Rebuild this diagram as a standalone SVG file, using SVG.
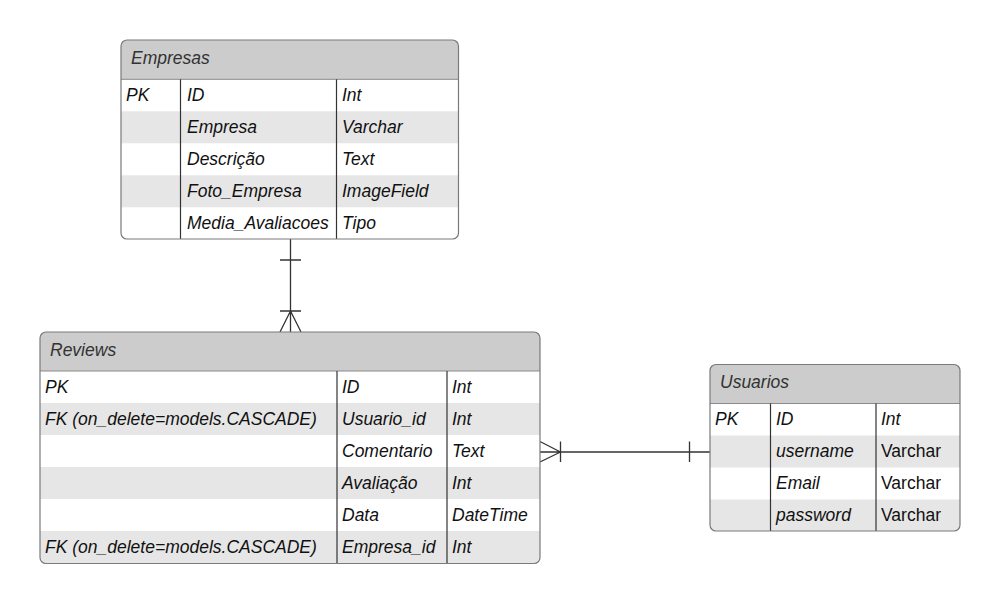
<svg xmlns="http://www.w3.org/2000/svg" width="1000" height="604" viewBox="0 0 1000 604">
<style>
  .bg{fill:#ffffff}
  .hdr{fill:#cccccc}
  .alt{fill:#e6e6e6}
  .border{fill:none;stroke:#7a7a7a;stroke-width:1.2}
  .sep{stroke:#8a8a8a;stroke-width:1}
  .col{stroke:#333333;stroke-width:1.2}
  .t{font-family:"Liberation Sans",Arial,sans-serif;font-size:17.5px;font-style:italic;fill:#111111}
  .tn{font-family:"Liberation Sans",Arial,sans-serif;font-size:17.5px;fill:#111111}
  .h{font-family:"Liberation Sans",Arial,sans-serif;font-size:17.5px;font-style:italic;fill:#333333}
  .c{fill:none;stroke:#333333;stroke-width:1.3}
</style>
<defs>
  <clipPath id="cE"><rect x="121" y="40" width="337.5" height="199" rx="6"/></clipPath>
  <clipPath id="cR"><rect x="40" y="332" width="500" height="231.5" rx="6"/></clipPath>
  <clipPath id="cU"><rect x="710" y="364.5" width="250" height="166.5" rx="6"/></clipPath>
</defs>
<rect class="bg" x="0" y="0" width="1000" height="604"/>

<g id="connectors">
  <path class="c" d="M290.5 239 V332 M280 260 H301 M280 311 H301 M290.5 311 L280 332 M290.5 311 L301 332"/>
  <path class="c" d="M540 452 H710 M560.5 441.5 V462 M689.5 441.5 V462 M540 441.5 L560.5 452 M540 462 L560.5 452"/>
</g>

<g id="empresas">
  <g clip-path="url(#cE)">
    <rect class="bg" x="121" y="40" width="338" height="200"/>
    <rect class="hdr" x="121" y="40" width="338" height="39.3"/>
    <rect class="alt" x="121" y="111.3" width="338" height="32"/>
    <rect class="alt" x="121" y="175.3" width="338" height="32"/>
  </g>
  <line class="sep" x1="121" y1="79.3" x2="458.5" y2="79.3"/>
  <line class="col" x1="180.5" y1="79.3" x2="180.5" y2="239"/>
  <line class="col" x1="336.5" y1="79.3" x2="336.5" y2="239"/>
  <rect class="border" x="121" y="40" width="337.5" height="199" rx="6"/>
  <text class="h" x="131" y="64">Empresas</text>
  <text class="t" x="126" y="100.5">PK</text>
  <text class="t" x="187" y="100.5">ID</text>
  <text class="t" x="342" y="100.5">Int</text>
  <text class="t" x="187" y="132.5">Empresa</text>
  <text class="t" x="342" y="132.5">Varchar</text>
  <text class="t" x="187" y="164.5">Descrição</text>
  <text class="t" x="342" y="164.5">Text</text>
  <text class="t" x="187" y="196.5">Foto_Empresa</text>
  <text class="t" x="342" y="196.5">ImageField</text>
  <text class="t" x="187" y="228.5">Media_Avaliacoes</text>
  <text class="t" x="342" y="228.5">Tipo</text>
</g>

<g id="reviews">
  <g clip-path="url(#cR)">
    <rect class="bg" x="40" y="332" width="500" height="232"/>
    <rect class="hdr" x="40" y="332" width="500" height="39"/>
    <rect class="alt" x="40" y="403" width="500" height="32"/>
    <rect class="alt" x="40" y="467" width="500" height="32"/>
    <rect class="alt" x="40" y="531" width="500" height="33"/>
  </g>
  <line class="sep" x1="40" y1="371" x2="540" y2="371"/>
  <line class="col" x1="337" y1="371" x2="337" y2="563.5"/>
  <line class="col" x1="447" y1="371" x2="447" y2="563.5"/>
  <rect class="border" x="40" y="332" width="500" height="231.5" rx="6"/>
  <text class="h" x="50" y="356">Reviews</text>
  <text class="t" x="45" y="392.5">PK</text>
  <text class="t" x="342" y="392.5">ID</text>
  <text class="t" x="452" y="392.5">Int</text>
  <text class="t" x="45" y="424.5">FK (on_delete=models.CASCADE)</text>
  <text class="t" x="342" y="424.5">Usuario_id</text>
  <text class="t" x="452" y="424.5">Int</text>
  <text class="t" x="342" y="456.5">Comentario</text>
  <text class="t" x="452" y="456.5">Text</text>
  <text class="t" x="342" y="488.5">Avaliação</text>
  <text class="t" x="452" y="488.5">Int</text>
  <text class="t" x="342" y="520.5">Data</text>
  <text class="t" x="452" y="520.5">DateTime</text>
  <text class="t" x="45" y="552.5">FK (on_delete=models.CASCADE)</text>
  <text class="t" x="342" y="552.5">Empresa_id</text>
  <text class="t" x="452" y="552.5">Int</text>
</g>

<g id="usuarios">
  <g clip-path="url(#cU)">
    <rect class="bg" x="710" y="364.5" width="250" height="167"/>
    <rect class="hdr" x="710" y="364.5" width="250" height="39"/>
    <rect class="alt" x="710" y="435.5" width="250" height="32"/>
    <rect class="alt" x="710" y="499.5" width="250" height="32"/>
  </g>
  <line class="sep" x1="710" y1="403.5" x2="960" y2="403.5"/>
  <line class="col" x1="770.5" y1="403.5" x2="770.5" y2="531"/>
  <line class="col" x1="876" y1="403.5" x2="876" y2="531"/>
  <rect class="border" x="710" y="364.5" width="250" height="166.5" rx="6"/>
  <text class="h" x="720" y="388">Usuarios</text>
  <text class="t" x="715" y="424.5">PK</text>
  <text class="t" x="776" y="424.5">ID</text>
  <text class="t" x="881" y="424.5">Int</text>
  <text class="t" x="776" y="456.5">username</text>
  <text class="tn" x="881" y="456.5">Varchar</text>
  <text class="t" x="776" y="488.5">Email</text>
  <text class="tn" x="881" y="488.5">Varchar</text>
  <text class="t" x="776" y="520.5">password</text>
  <text class="tn" x="881" y="520.5">Varchar</text>
</g>
</svg>
